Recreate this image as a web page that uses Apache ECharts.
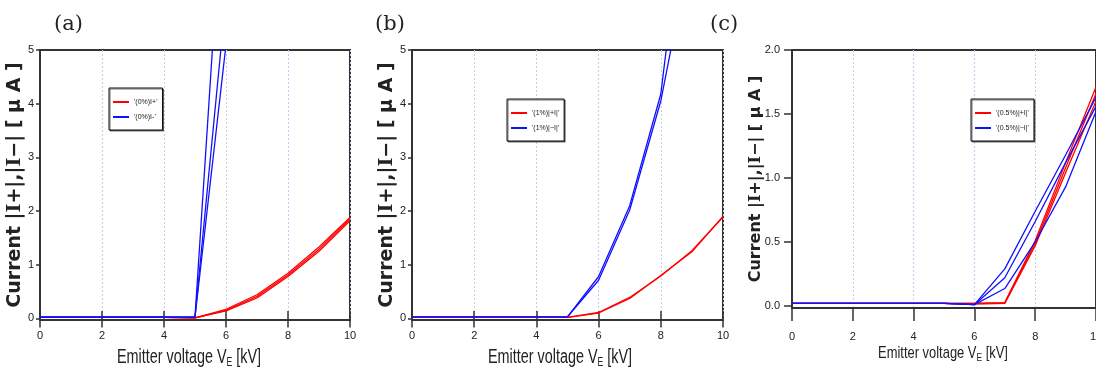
<!DOCTYPE html>
<html>
<head>
<meta charset="utf-8">
<script src="https://cdn.jsdelivr.net/npm/echarts@6/dist/echarts.min.js"></script>
<style>
  html, body { margin: 0; padding: 0; background: #fff; overflow: hidden; }
  #chart { width: 1096px; height: 369px; }
</style>
</head>
<body>
<div id="chart"></div>
<script>
// Emitter voltage [kV]
const voltage = [0, 1, 2, 3, 4, 5, 6, 7, 8, 9, 10];

// (a) 0% : |I+| and |I-| in uA, three runs each
const a_plus = [
  [0.02, 0.02, 0.02, 0.02, 0.02, 0.01, 0.17, 0.44, 0.84, 1.33, 1.88],
  [0.02, 0.02, 0.02, 0.02, 0.02, 0.01, 0.15, 0.41, 0.81, 1.29, 1.85],
  [0.02, 0.02, 0.02, 0.02, 0.02, 0.01, 0.14, 0.38, 0.78, 1.25, 1.82]
];
const a_minus = [
  [0.025, 0.025, 0.025, 0.025, 0.025, 0.025, 8.9, 17.5, 27.0, 38.0, 50.0],
  [0.025, 0.025, 0.025, 0.025, 0.025, 0.025, 6.0, 12.5, 20.0, 29.0, 39.0],
  [0.025, 0.025, 0.025, 0.025, 0.025, 0.025, 5.1, 10.5, 17.0, 24.5, 33.0]
];

// (b) 1%
const b_plus = [
  [0.02, 0.02, 0.02, 0.02, 0.02, 0.02, 0.10, 0.37, 0.80, 1.24, 1.90],
  [0.02, 0.02, 0.02, 0.02, 0.02, 0.02, 0.11, 0.39, 0.79, 1.26, 1.89]
];
const b_minus = [
  [0.03, 0.03, 0.03, 0.03, 0.03, 0.03, 0.71, 2.02, 4.05, 7.0, 10.0],
  [0.03, 0.03, 0.03, 0.03, 0.03, 0.03, 0.78, 2.10, 4.18, 8.9, 13.0]
];

// (c) 0.5%
const c_plus = [
  [0.02, 0.02, 0.02, 0.02, 0.02, 0.02, 0.02, 0.026, 0.51, 1.12, 1.71],
  [0.02, 0.02, 0.02, 0.02, 0.02, 0.02, 0.02, 0.024, 0.49, 1.08, 1.66],
  [0.02, 0.02, 0.02, 0.02, 0.02, 0.02, 0.015, 0.02, 0.47, 1.04, 1.60]
];
const c_minus = [
  [0.02, 0.02, 0.02, 0.02, 0.02, 0.02, 0.01, 0.29, 0.74, 1.18, 1.63],
  [0.02, 0.02, 0.02, 0.02, 0.02, 0.02, 0.01, 0.22, 0.66, 1.12, 1.56],
  [0.02, 0.02, 0.02, 0.02, 0.02, 0.02, 0.01, 0.136, 0.50, 0.93, 1.52]
];

const yTicksAB = [0, 1, 2, 3, 4, 5];
const yTicksC = [0, 0.5, 1.0, 1.5, 2.0];

const panelLetters = ['(a)', '(b)', '(c)'];
const legendNames = [
  ["'(0%)I+'", "'(0%)I-'"],
  ["'(1%)|+I|'", "'(1%)|\u2212I|'"],
  ["'(0.5%)|+I|'", "'(0.5%)|\u2212I|'"]
];

const RED = '#ff0000';
const BLUE = '#1010ff';
const AXIS = '#333';
const SANS = '"Liberation Sans", Arial, sans-serif';

const grids = [
  { left: 40, top: 50, width: 310, height: 270 },
  { left: 412, top: 50, width: 311, height: 270 },
  { left: 792, top: 50, width: 304, height: 258 }
];

function yName(size) {
  return {
    fontFamily: '"DejaVu Sans", sans-serif',
    fontSize: size,
    fontWeight: 'bold',
    color: '#222',
    rich: {
      s: { fontFamily: '"DejaVu Serif", serif', fontSize: size, fontWeight: 'bold', color: '#222' }
    }
  };
}

const xAxes = [];
const yAxes = [];
const series = [];

[0, 1, 2].forEach(function (g) {
  const isC = g === 2;
  // bottom axis
  xAxes.push({
    gridIndex: g, type: 'value', min: 0, max: 10, interval: 2,
    axisLine: { show: true, onZero: false, lineStyle: { color: AXIS, width: 2 } },
    axisTick: { show: true, inside: !isC, length: isC ? 13 : 9, lineStyle: { color: AXIS, width: 1.5 } },
    axisLabel: { margin: isC ? 23 : 10, fontFamily: SANS, fontSize: 11, color: '#222' },
    splitLine: { show: true, lineStyle: { color: '#c9c9f2', type: [2, 2], width: 1 } }
  });
  if (!isC) {
    // mirrored ticks along the top of the frame
    xAxes.push({
      gridIndex: g, type: 'value', position: 'top', min: 0, max: 10, interval: 2,
      axisLine: { show: false },
      axisTick: { show: true, inside: true, length: 9, lineStyle: { color: AXIS, width: 1.5 } },
      axisLabel: { show: false },
      splitLine: { show: false }
    });
  }
  const ticks = isC ? yTicksC : yTicksAB;
  yAxes.push({
    gridIndex: g, type: 'value',
    min: isC ? -0.016 : -0.03, max: isC ? 2 : 5,
    name: 'Current |{s|I}+|,|{s|I}\u2212| [ \u03bc A ]',
    nameLocation: 'middle', nameGap: isC ? 28 : 15,
    nameMoveOverlap: false,
    nameTextStyle: yName(isC ? 16 : 19),
    axisLine: { show: true, onZero: false, lineStyle: { color: AXIS, width: 2 } },
    axisTick: { show: true, length: isC ? 8 : 4, customValues: ticks, lineStyle: { color: AXIS, width: 1.5 } },
    axisLabel: {
      customValues: ticks, margin: isC ? 12 : 6, fontFamily: SANS, fontSize: 11, color: '#222',
      formatter: function (v) { return isC ? v.toFixed(1) : String(Math.round(v)); }
    },
    splitLine: { show: false }
  });
});

function addLines(data, name, color, xIdx, yIdx) {
  data.forEach(function (row) {
    series.push({
      type: 'line', name: name, xAxisIndex: xIdx, yAxisIndex: yIdx,
      data: voltage.map(function (x, i) { return [x, row[i]]; }),
      symbol: 'none', clip: true, silent: true, animation: false,
      lineStyle: { color: color, width: 1.3 }, itemStyle: { color: color }
    });
  });
}

// x axis indices: a bottom 0, a top 1, b bottom 2, b top 3, c bottom 4
addLines(a_plus, legendNames[0][0], RED, 0, 0);
addLines(a_minus, legendNames[0][1], BLUE, 0, 0);
addLines(b_plus, legendNames[1][0], RED, 2, 1);
addLines(b_minus, legendNames[1][1], BLUE, 2, 1);
addLines(c_plus, legendNames[2][0], RED, 4, 2);
addLines(c_minus, legendNames[2][1], BLUE, 4, 2);

const legendPos = [
  { left: 109, top: 88 },
  { left: 507, top: 99 },
  { left: 971, top: 99 }
];

const legends = legendPos.map(function (p, i) {
  return {
    data: legendNames[i], left: p.left, top: p.top, orient: 'vertical',
    icon: 'rect', itemWidth: 16, itemHeight: 2, itemGap: 5,
    padding: [9, 5, 8, 4],
    backgroundColor: '#fff', borderColor: '#111', borderWidth: 1,
    shadowColor: 'rgba(0,0,0,0.55)', shadowOffsetX: 1, shadowOffsetY: 1, shadowBlur: 0,
    selectedMode: false,
    textStyle: { fontFamily: SANS, fontSize: 7, lineHeight: 10, color: '#222' }
  };
});

const titleLeft = [49, 370, 705];
const titles = panelLetters.map(function (t, i) {
  return {
    text: t, left: titleLeft[i], top: 9,
    textStyle: { fontFamily: '"DejaVu Serif", serif', fontSize: 21, fontWeight: 'normal', color: '#222' }
  };
});

// horizontal-axis captions, set in a condensed face
const xCaptions = [
  { cx: 189, y: 346, size: 20, sx: 0.72 },
  { cx: 560, y: 346, size: 20, sx: 0.72 },
  { cx: 943, y: 343, size: 17, sx: 0.76 }
];
const graphics = xCaptions.map(function (c) {
  return {
    type: 'text', x: c.cx, y: c.y, scaleX: c.sx, silent: true,
    style: {
      text: '{m|Emitter voltage V}{sub|E}{m| [kV]}',
      align: 'center', verticalAlign: 'top',
      rich: {
        m: { fontFamily: SANS, fontSize: c.size, fill: '#222' },
        sub: { fontFamily: SANS, fontSize: Math.round(c.size * 0.62), fill: '#222', padding: [Math.round(c.size * 0.55), 0, 0, 0] }
      }
    }
  };
});

const chart = echarts.init(document.getElementById('chart'), null, { renderer: 'canvas' });
chart.setOption({
  animation: false,
  backgroundColor: '#fff',
  title: titles,
  legend: legends,
  grid: grids.map(function (g) {
    return Object.assign({ show: true, borderColor: AXIS, borderWidth: 2, backgroundColor: 'transparent', containLabel: false, outerBoundsMode: 'none' }, g);
  }),
  xAxis: xAxes,
  yAxis: yAxes,
  graphic: graphics,
  series: series
});
</script>
</body>
</html>
